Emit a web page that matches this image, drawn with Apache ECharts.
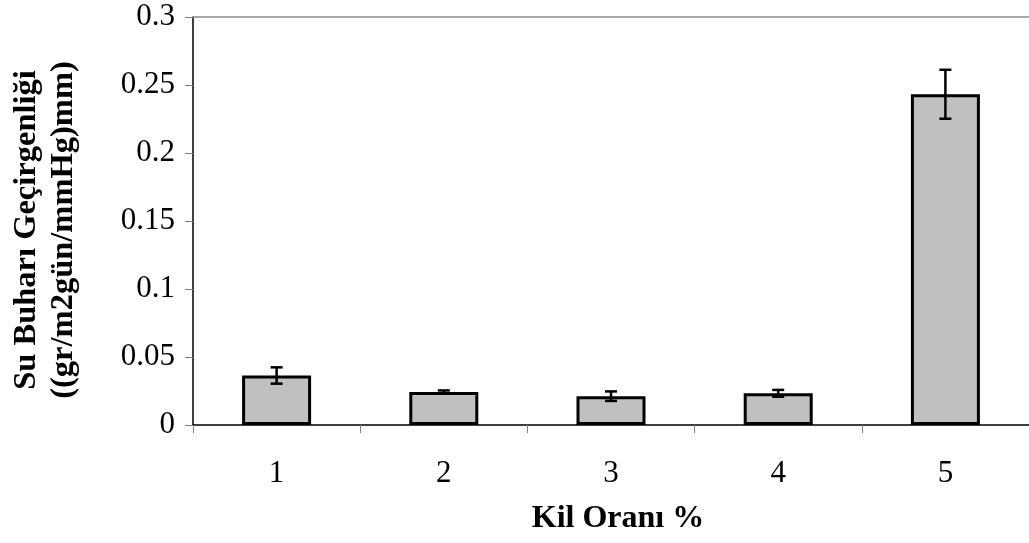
<!DOCTYPE html>
<html>
<head>
<meta charset="utf-8">
<script src="https://cdn.jsdelivr.net/npm/echarts@6/dist/echarts.min.js"></script>
<style>
  html, body { margin: 0; padding: 0; background: #fff; }
  #chart { width: 1029px; height: 543px; }
</style>
</head>
<body>
<div id="chart"></div>
<script>
// Clay ratio categories and water vapour permeability (mean, ± error)
const categories = ['1', '2', '3', '4', '5'];
const permeability = [0.0364, 0.0242, 0.0212, 0.0233, 0.2432];
const errorAmount = [0.006, 0.0012, 0.0035, 0.0025, 0.018];
const yTicks = { min: 0, max: 0.3, interval: 0.05 };

const FONT = '"Liberation Serif", "Times New Roman", serif';

const errorData = permeability.map((v, i) => [i, v - errorAmount[i], v + errorAmount[i]]);

const chart = echarts.init(document.getElementById('chart'));
chart.setOption({
  animation: false,
  backgroundColor: '#ffffff',
  grid: { left: 188, top: 17, bottom: 118, width: 850, containLabel: false },
  xAxis: [{
    type: 'category',
    data: categories,
    name: 'Kil Oranı %',
    nameLocation: 'middle',
    nameGap: 78,
    nameTextStyle: { fontFamily: FONT, fontSize: 32, fontWeight: 'bold', color: '#000', padding: [0, 0, 0, 14] },
    axisLine: { lineStyle: { color: '#000', width: 1.5 } },
    axisTick: { show: true, length: 8, lineStyle: { color: '#808080', width: 1 } },
    axisLabel: { fontFamily: FONT, fontSize: 31, color: '#000', margin: 33 },
    splitLine: { show: false }
  }, {
    type: 'category',
    data: categories,
    position: 'top',
    axisLine: { lineStyle: { color: '#8c8c8c', width: 1.5 } },
    axisTick: { show: false },
    axisLabel: { show: false }
  }],
  yAxis: {
    type: 'value',
    min: yTicks.min,
    max: yTicks.max,
    interval: yTicks.interval,
    name: 'Su Buharı Geçirgenliği\n((gr/m2gün/mmHg)mm)',
    nameLocation: 'middle',
    nameGap: 111,
    nameRotate: 90,
    nameTextStyle: { fontFamily: FONT, fontSize: 32.5, fontWeight: 'bold', color: '#000', lineHeight: 37, padding: [0, 18, 0, 0] },
    axisLine: { show: true, lineStyle: { color: '#000', width: 1.5 } },
    axisTick: { show: true, inside: false, length: 8, lineStyle: { color: '#808080', width: 1 } },
    axisLabel: { fontFamily: FONT, fontSize: 31, color: '#000', margin: 18,
      formatter: v => String(+v.toFixed(2)) },
    splitLine: { show: false }
  },
  series: [{
    type: 'bar',
    data: permeability,
    barWidth: 69,
    itemStyle: { color: '#c0c0c0', borderColor: '#000', borderWidth: 3 }
  }, {
    type: 'custom',
    data: errorData,
    z: 10,
    renderItem: (params, api) => {
      const lo = api.coord([api.value(0), api.value(1)]);
      const hi = api.coord([api.value(0), api.value(2)]);
      const hw = 6;
      const style = { stroke: '#000', lineWidth: 2.5 };
      return {
        type: 'group',
        children: [
          { type: 'line', shape: { x1: hi[0], y1: hi[1], x2: lo[0], y2: lo[1] }, style },
          { type: 'line', shape: { x1: hi[0] - hw, y1: hi[1], x2: hi[0] + hw, y2: hi[1] }, style },
          { type: 'line', shape: { x1: lo[0] - hw, y1: lo[1], x2: lo[0] + hw, y2: lo[1] }, style }
        ]
      };
    }
  }]
});
</script>
</body>
</html>
